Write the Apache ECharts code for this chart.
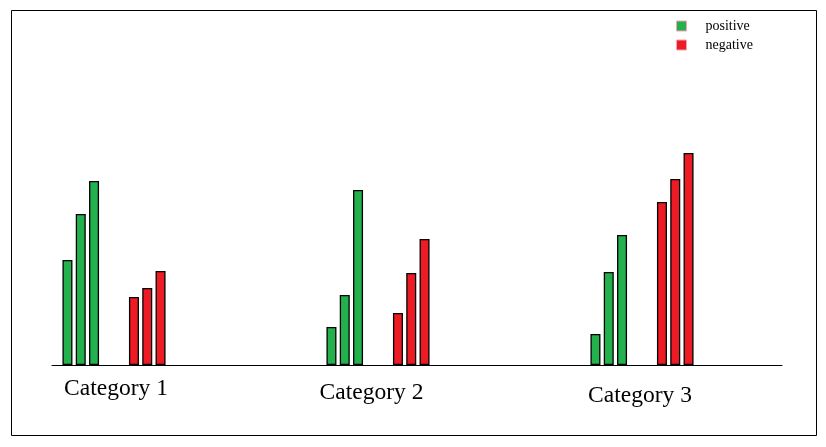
<!DOCTYPE html>
<html><head><meta charset="utf-8">
<script src="https://cdn.jsdelivr.net/npm/echarts@6/dist/echarts.min.js"></script>
<style>html,body{margin:0;padding:0;background:#fff}#c{width:826px;height:447px}</style>
</head><body><div id="c"></div>
<script>
const categories = ['Category 1', 'Category 2', 'Category 3'];
const legendNames = ['positive', 'negative'];
const positive1 = [105, 38, 31];
const positive2 = [151, 70, 93];
const positive3 = [184, 175, 130];
const negative1 = [68, 52, 163];
const negative2 = [77, 92, 186];
const negative3 = [94, 126, 212];
const emptySlot = [null, null, null];

const GREEN = '#22b14c', RED = '#ed1c24';
const FONT = 'Liberation Serif';

function bar(name, data, color) {
  return {
    type: 'bar', name: name, data: data, xAxisIndex: 0, yAxisIndex: 0,
    barWidth: 10, barGap: '33%',
    itemStyle: { color: color, borderColor: '#000', borderWidth: 1.3 },
    emphasis: { disabled: true }, silent: true
  };
}

const chart = echarts.init(document.getElementById('c'));
chart.setOption({
  animation: false,
  backgroundColor: '#fff',
  grid: [
    { left: -18, right: 52, top: 65, bottom: 82, outerBoundsMode: 'none', containLabel: false },
    { left: 52, right: 44, top: 65, bottom: 82, outerBoundsMode: 'none', containLabel: false }
  ],
  legend: {
    data: legendNames, orient: 'vertical', left: 676, top: 19, padding: 0,
    itemWidth: 10, itemHeight: 10, itemGap: 5, icon: 'rect', selectedMode: false,
    itemStyle: { borderColor: '#f5a3b5', borderWidth: 1 },
    textStyle: { fontFamily: FONT, fontSize: 14, color: '#000', padding: [3, 0, 0, 14] }
  },
  xAxis: [
    {
      type: 'category', data: categories, gridIndex: 0,
      axisLine: { show: false }, axisTick: { show: false }, splitLine: { show: false },
      axisLabel: {
        margin: 12, color: '#000', fontFamily: FONT, fontSize: 23.5,
        formatter: function (v, i) { return '{c' + i + '|' + v + '}'; },
        rich: {
          c0: { fontFamily: FONT, fontSize: 23.5, color: '#000', padding: [0, 0, 0, 4] },
          c1: { fontFamily: FONT, fontSize: 23.5, color: '#000', padding: [4, 13, 0, 0] },
          c2: { fontFamily: FONT, fontSize: 23.5, color: '#000', padding: [7, 4, 0, 0] }
        }
      }
    },
    {
      type: 'value', gridIndex: 1, min: 0, max: 1,
      axisLine: { show: true, lineStyle: { color: '#000', width: 1 } },
      axisTick: { show: false }, axisLabel: { show: false }, splitLine: { show: false }
    }
  ],
  yAxis: [
    { type: 'value', gridIndex: 0, min: 0, max: 300, show: false, splitLine: { show: false } },
    { type: 'value', gridIndex: 1, min: 0, max: 1, show: false, splitLine: { show: false } }
  ],
  series: [
    bar('positive', positive1, GREEN),
    bar('positive', positive2, GREEN),
    bar('positive', positive3, GREEN),
    bar('', emptySlot, RED),
    bar('', emptySlot, RED),
    bar('negative', negative1, RED),
    bar('negative', negative2, RED),
    bar('negative', negative3, RED)
  ],
  graphic: [{
    type: 'rect', silent: true,
    shape: { x: 11.5, y: 10.5, width: 805, height: 425 },
    style: { fill: 'none', stroke: '#000', lineWidth: 1 }
  }]
});
</script>
</body></html>
